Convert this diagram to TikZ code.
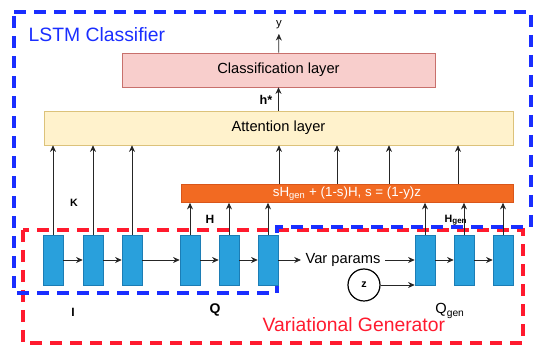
\documentclass[tikz,border=0pt]{standalone}
\usepackage{fontspec}
\setmainfont{Liberation Sans}
\usetikzlibrary{arrows.meta}

\definecolor{cellfill}{HTML}{29A0DC}
\definecolor{celldraw}{HTML}{1C7DB5}
\definecolor{clsfill}{HTML}{F8CECC}
\definecolor{clsdraw}{HTML}{C8706C}
\definecolor{attfill}{HTML}{FFF2CC}
\definecolor{attdraw}{HTML}{DCC27A}
\definecolor{mixfill}{HTML}{F26A22}
\definecolor{mixdraw}{HTML}{D9561A}
\definecolor{lstmblue}{HTML}{1A2EFF}
\definecolor{vgred}{HTML}{FF1A2E}

\begin{document}
\begin{tikzpicture}[x=0.75pt,y=-0.75pt,
    cell/.style={draw=celldraw,fill=cellfill,minimum width=15pt,minimum height=37.5pt,inner sep=0pt},
    layer/.style={draw,minimum height=25.5pt,inner sep=0pt,font=\fontsize{11}{13}\selectfont},
    arr/.style={-{Stealth[length=5pt,width=4.5pt]},draw=black!85,line width=0.6pt},
    lbl/.style={font=\bfseries\fontsize{9}{10}\selectfont},
    small/.style={font=\bfseries\fontsize{8}{9}\selectfont},
    txt/.style={font=\fontsize{11}{13}\selectfont}]
  \useasboundingbox (0,0) rectangle (533,345);

  % boxes round the two parts
  \draw[vgred,line width=2.4pt,dash pattern=on 9pt off 6pt]
    (23,230) rectangle (523,343);
  \draw[lstmblue,line width=2.4pt,dash pattern=on 9pt off 6pt]
    (14,12) -- (531,12) -- (531,227) -- (277,227) -- (277,293) -- (14,293) -- cycle;
  \node[anchor=west,lstmblue,font=\fontsize{14.5}{17}\selectfont] (lstm) at (24,35) {LSTM Classifier};
  \node[anchor=west,vgred,font=\fontsize{14.5}{17}\selectfont] (vgen) at (258,325) {Variational Generator};

  % layers
  \node[layer,draw=clsdraw,fill=clsfill,minimum width=234.75pt] (cls) at (278.5,70) {Classification layer};
  \node[layer,draw=attdraw,fill=attfill,minimum width=351.75pt] (att) at (278.5,128) {Attention layer};
  \node[draw=mixdraw,fill=mixfill,text=white,minimum width=249pt,minimum height=13.5pt,inner sep=0pt,
    font=\fontsize{10}{12}\selectfont] (mix) at (347,193.5) {sH\textsubscript{gen} + (1-s)H, s = (1-y)z};

  % lstm cells
  \foreach \n/\x in {1/53,2/93,3/132,4/190,5/229,6/268,7/425,8/464,9/503}
    \node[cell] (c\n) at (\x,260) {};
  \foreach \a/\b in {1/2,2/3,3/4,4/5,5/6,7/8,8/9}
    \draw[arr] (c\a) -- (c\b);

  \node[txt] (vp) at (343,260) {Var params};
  \node[draw,circle,line width=0.9pt,minimum size=24pt,inner sep=0pt,font=\bfseries\fontsize{8}{9}\selectfont] (z) at (364,285) {z};
  \draw[arr] (c6) -- (vp);
  \draw[arr] (vp) -- (c7);
  \draw[arr] (z) -- (z -| c7.west);

  % connections up
  \foreach \n in {1,2,3}
    \draw[arr] (c\n.north) -- (c\n.north |- att.south);
  \foreach \n in {4,5,6,7,8,9}
    \draw[arr] (c\n.north) -- (c\n.north |- mix.south);
  \foreach \x in {279,337,389,458}
    \draw[arr] (\x,0 |- mix.north) -- (\x,0 |- att.south);
  \draw[arr] (att) -- (cls);
  \node[font=\fontsize{8.5}{10}\selectfont] (y) at (279,25) {y};
  \draw[arr] (cls) -- (y);

  % labels
  \node[font=\bfseries\fontsize{9.5}{11}\selectfont] (hstar) at (266,100) {h*};
  \node[small] (k) at (74,203) {K};
  \node[lbl] (h) at (210,219) {H};
  \node[small] (hgen) at (456,220) {H\textsubscript{gen}};
  \node[lbl] (i) at (73,312) {I};
  \node[lbl,font=\bfseries\fontsize{10.5}{12}\selectfont] (q) at (215,310) {Q};
  \node[font=\fontsize{11}{13}\selectfont] (qgen) at (450,311) {Q\textsubscript{gen}};
\end{tikzpicture}
\end{document}
